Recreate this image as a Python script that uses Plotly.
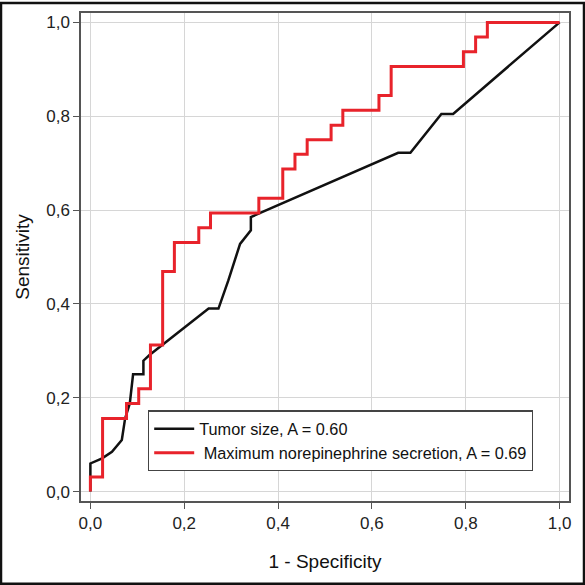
import plotly.graph_objects as go

# ROC data (1 - specificity, sensitivity)
tumor_fpr = [0.0, 0.0, 0.025, 0.046, 0.067, 0.074, 0.084, 0.091, 0.113, 0.113, 0.126,
             0.252, 0.273, 0.294, 0.319, 0.342, 0.342, 0.362, 0.656, 0.682, 0.748, 0.773, 1.0]
tumor_tpr = [0.0, 0.06, 0.071, 0.085, 0.11, 0.156, 0.188, 0.25, 0.25, 0.279, 0.291,
             0.39, 0.39, 0.45, 0.528, 0.557, 0.585, 0.594, 0.722, 0.722, 0.805, 0.805, 1.0]

ne_fpr = [0.0, 0.0, 0.026, 0.077, 0.103, 0.128, 0.154, 0.179, 0.231, 0.256, 0.359,
          0.410, 0.436, 0.462, 0.513, 0.538, 0.615, 0.641, 0.795, 0.821, 0.846, 1.0]
ne_tpr = [0.0, 0.031, 0.156, 0.188, 0.219, 0.3125, 0.469, 0.531, 0.5625, 0.594, 0.625,
          0.6875, 0.719, 0.75, 0.781, 0.8125, 0.844, 0.906, 0.9375, 0.969, 1.0, 1.0]

series_names = ["Tumor size, A = 0.60", " Maximum norepinephrine secretion, A = 0.69"]
tick_vals = [0.0, 0.2, 0.4, 0.6, 0.8, 1.0]
tick_text = ["0,0", "0,2", "0,4", "0,6", "0,8", "1,0"]

W = H = 585
L, R, T, B = 81, 16, 11, 84
PW, PH = W - L - R, H - T - B
FONT = "Arial, 'Liberation Sans', sans-serif"

fig = go.Figure()
fig.add_trace(go.Scatter(x=tumor_fpr, y=tumor_tpr, mode="lines", name=series_names[0],
                         line=dict(color="#111111", width=2.5)))
fig.add_trace(go.Scatter(x=ne_fpr, y=ne_tpr, mode="lines", name=series_names[1],
                         line=dict(color="#e8232b", width=3, shape="hv")))

axis_common = dict(
    range=[-0.02, 1.02], tickvals=tick_vals, ticktext=tick_text,
    showgrid=True, gridcolor="#d6d6d6", gridwidth=1,
    zeroline=False, showline=True, linecolor="#555555", linewidth=1.5, mirror=True,
    ticks="outside", ticklen=6, tickwidth=1.2, tickcolor="#555555",
    tickfont=dict(family=FONT, size=17, color="#222222"),
)

fig.update_xaxes(**axis_common,
                 title=dict(text="1 - Specificity", font=dict(family=FONT, size=19, color="#111111"),
                            standoff=23))
fig.update_yaxes(**axis_common,
                 title=dict(text="Sensitivity", font=dict(family=FONT, size=19, color="#111111"),
                            standoff=12))

def px2paper_x(px):
    return (px - L) / PW

def py2paper_y(py):
    return (H - B - py) / PH

fig.update_layout(
    width=W, height=H,
    margin=dict(l=L, r=R, t=T, b=B, pad=0),
    paper_bgcolor="white", plot_bgcolor="white",
    showlegend=True,
    legend=dict(x=px2paper_x(148), y=py2paper_y(410), xanchor="left", yanchor="top",
                bgcolor="white", bordercolor="#444444", borderwidth=1.2,
                font=dict(family=FONT, size=16.3, color="#111111"),
                itemwidth=40, tracegroupgap=0),
    shapes=[dict(type="rect", xref="paper", yref="paper",
                 x0=px2paper_x(1), x1=px2paper_x(584), y0=py2paper_y(584), y1=py2paper_y(1),
                 line=dict(color="#111111", width=2.5), fillcolor="rgba(0,0,0,0)", layer="above")],
)

fig.write_html("out.html", config={"displayModeBar": False},
               post_script="document.body.style.margin='0px';document.body.style.padding='0px';")
